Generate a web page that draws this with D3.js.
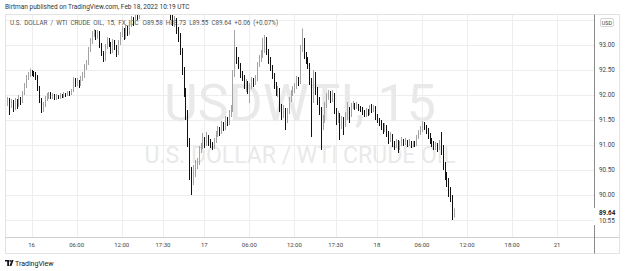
<!DOCTYPE html>
<html>
<head>
<meta charset="utf-8">
<script src="https://cdn.jsdelivr.net/npm/d3@7"></script>
<style>
  body { margin: 0; background: #fff; }
  svg { display: block; font-family: Roboto, "Liberation Sans", sans-serif; }
</style>
</head>
<body>
<div id="chart"></div>
<script>
// USDWTI 15 min bars (bar 0 = first bar on screen)
const opens = [
  91.78,91.82,91.90,91.78,91.86,91.74,91.88,91.80,91.92,91.86,92.02,92.18,92.34,92.40,92.46,92.44,92.42,92.36,92.14,91.90,
  91.72,91.80,91.92,91.98,92.02,91.96,92.00,91.94,91.98,91.96,92.00,91.98,92.02,92.00,92.04,92.02,92.08,92.30,92.22,92.28,
  92.20,92.32,92.36,92.56,92.62,92.90,93.06,93.22,93.28,93.18,93.26,93.00,92.84,92.70,92.96,93.10,93.02,92.88,93.06,92.96,
  92.82,93.04,93.20,93.30,93.16,93.34,93.24,93.40,93.50,93.44,93.62,93.56,93.70,93.82,93.95,94.05,94.10,94.02,94.15,94.20,
  94.12,94.08,94.18,94.10,94.00,93.96,93.90,93.84,93.78,93.56,93.44,93.50,93.30,93.20,92.90,92.50,92.10,91.62,91.10,90.40,
  90.30,90.44,90.60,90.64,90.90,90.96,91.10,91.02,91.16,91.06,91.02,90.96,91.08,91.20,91.30,91.26,91.40,91.34,91.50,91.44,
  91.62,91.70,92.40,92.80,92.70,92.60,92.40,92.36,92.20,92.24,92.10,92.18,92.30,92.24,92.32,92.60,92.72,92.80,92.90,93.10,
  92.88,92.70,92.56,92.40,92.20,92.06,92.10,91.76,91.62,91.70,91.56,91.66,91.90,92.04,92.10,92.16,92.30,92.26,92.90,93.10,
  92.80,92.70,92.60,92.30,91.90,92.40,92.10,91.90,91.70,91.40,91.50,91.80,91.96,92.04,91.90,92.00,91.70,91.50,91.60,91.40,
  91.50,91.40,91.56,91.70,91.60,91.76,91.80,91.76,91.80,91.74,91.72,91.66,91.60,91.70,91.64,91.74,91.70,91.76,91.56,91.50,
  91.44,91.40,91.30,91.36,91.24,91.10,91.18,91.04,91.00,91.06,90.94,91.02,91.10,91.04,91.08,91.02,91.06,91.00,91.04,91.02,
  91.16,91.24,91.30,91.40,91.36,91.30,91.20,91.10,91.04,90.96,91.00,90.94,91.02,90.96,90.60,90.40,90.30,90.10,89.96,89.58
];
const highs = [
  91.90,91.96,91.94,91.92,91.90,91.94,91.92,92.00,91.96,92.08,92.24,92.40,92.46,92.53,92.50,92.48,92.46,92.40,92.18,91.94,
  91.86,91.98,92.04,92.06,92.06,92.04,92.02,92.02,92.00,92.04,92.02,92.06,92.04,92.08,92.08,92.12,92.36,92.34,92.34,92.30,
  92.38,92.46,92.62,92.70,92.96,93.14,93.28,93.32,93.30,93.30,93.28,93.04,92.88,93.02,93.16,93.14,93.06,93.12,93.10,93.00,
  93.10,93.26,93.38,93.34,93.42,93.38,93.48,93.58,93.56,93.70,93.68,93.80,93.90,94.02,94.12,94.18,94.14,94.22,94.28,94.24,
  94.16,94.24,94.22,94.14,94.06,94.00,93.94,93.88,93.82,93.60,93.58,93.54,93.36,93.24,92.94,92.56,92.14,91.70,91.14,90.56,
  90.60,90.70,90.74,90.98,91.04,91.24,91.16,91.26,91.20,91.12,91.06,91.14,91.28,91.38,91.36,91.48,91.46,91.58,91.56,91.70,
  91.80,92.50,93.30,92.96,92.76,92.64,92.48,92.40,92.32,92.28,92.24,92.36,92.34,92.40,92.66,92.80,92.90,93.14,93.20,93.16,
  92.92,92.76,92.60,92.44,92.26,92.18,92.14,91.82,91.80,91.74,91.74,91.96,92.10,92.18,92.24,92.38,92.36,93.00,93.33,93.14,
  92.86,92.76,92.64,92.34,92.50,92.46,92.16,91.96,91.76,91.60,91.86,92.04,92.10,92.08,92.10,92.04,91.74,91.68,91.64,91.58,
  91.56,91.66,91.86,91.76,91.84,91.88,91.84,91.86,91.82,91.78,91.76,91.70,91.74,91.72,91.80,91.82,91.80,91.78,91.62,91.54,
  91.50,91.44,91.44,91.40,91.28,91.26,91.22,91.08,91.12,91.10,91.08,91.16,91.12,91.14,91.10,91.12,91.08,91.08,91.08,91.20,
  91.30,91.38,91.48,91.46,91.40,91.34,91.24,91.14,91.08,91.06,91.04,91.10,91.26,91.00,90.66,90.46,90.34,90.16,90.00,89.73
];
const lows = [
  91.72,91.78,91.60,91.74,91.66,91.70,91.72,91.76,91.80,91.84,92.00,92.14,92.30,92.36,92.38,92.36,92.30,92.08,91.84,91.64,
  91.66,91.76,91.88,91.92,91.92,91.92,91.90,91.90,91.92,91.92,91.94,91.94,91.96,91.98,91.98,92.00,92.06,92.16,92.18,92.14,
  92.18,92.28,92.34,92.50,92.60,92.86,93.02,93.16,93.10,93.12,92.94,92.78,92.66,92.68,92.92,92.96,92.82,92.84,92.90,92.76,
  92.80,93.00,93.16,93.10,93.12,93.18,93.20,93.36,93.38,93.40,93.50,93.52,93.66,93.78,93.90,94.00,93.96,93.98,94.10,94.06,
  94.02,94.04,94.04,93.94,93.90,93.84,93.78,93.70,93.50,93.38,93.36,93.22,93.06,92.80,92.40,91.96,91.50,90.96,90.30,90.00,
  90.20,90.36,90.52,90.60,90.84,90.92,90.94,90.98,90.98,90.94,90.90,90.92,91.04,91.16,91.18,91.22,91.28,91.30,91.38,91.40,
  91.56,91.66,92.36,92.62,92.52,92.34,92.28,92.12,92.06,92.02,91.84,92.12,92.16,92.20,92.28,92.56,92.66,92.74,92.84,92.80,
  92.62,92.48,92.32,92.12,91.98,91.96,91.66,91.50,91.54,91.30,91.44,91.62,91.86,91.98,92.04,92.12,92.18,92.22,92.86,92.72,
  92.62,92.52,92.20,91.16,91.84,92.00,91.80,91.60,90.90,91.30,91.44,91.74,91.90,91.84,91.86,91.62,91.40,91.44,91.10,91.32,
  91.20,91.36,91.50,91.44,91.56,91.72,91.70,91.72,91.68,91.66,91.60,91.56,91.56,91.58,91.60,91.64,91.66,91.50,91.44,91.38,
  91.30,91.22,91.26,91.16,91.02,91.06,90.96,90.90,90.94,90.84,90.90,90.98,90.98,91.00,90.96,90.98,90.94,90.96,90.96,90.98,
  91.12,91.20,91.26,91.30,91.22,91.12,91.02,90.96,90.90,90.90,90.86,90.90,90.80,90.50,90.30,90.16,89.96,89.86,89.50,89.55
];
const closes = [
  91.82,91.90,91.78,91.86,91.74,91.88,91.80,91.92,91.86,92.02,92.18,92.34,92.40,92.46,92.44,92.42,92.36,92.14,91.90,91.72,
  91.80,91.92,91.98,92.02,91.96,92.00,91.94,91.98,91.96,92.00,91.98,92.02,92.00,92.04,92.02,92.08,92.30,92.22,92.28,92.20,
  92.32,92.36,92.56,92.62,92.90,93.06,93.22,93.28,93.18,93.26,93.00,92.84,92.70,92.96,93.10,93.02,92.88,93.06,92.96,92.82,
  93.04,93.20,93.30,93.16,93.34,93.24,93.40,93.50,93.44,93.62,93.56,93.70,93.82,93.95,94.05,94.10,94.02,94.15,94.20,94.12,
  94.08,94.18,94.10,94.00,93.96,93.90,93.84,93.78,93.56,93.44,93.50,93.30,93.20,92.90,92.50,92.10,91.62,91.10,90.40,90.30,
  90.44,90.60,90.64,90.90,90.96,91.10,91.02,91.16,91.06,91.02,90.96,91.08,91.20,91.30,91.26,91.40,91.34,91.50,91.44,91.62,
  91.70,92.40,92.80,92.70,92.60,92.40,92.36,92.20,92.24,92.10,92.18,92.30,92.24,92.32,92.60,92.72,92.80,92.90,93.10,92.88,
  92.70,92.56,92.40,92.20,92.06,92.10,91.76,91.62,91.70,91.56,91.66,91.90,92.04,92.10,92.16,92.30,92.26,92.90,93.10,92.80,
  92.70,92.60,92.30,91.90,92.40,92.10,91.90,91.70,91.40,91.50,91.80,91.96,92.04,91.90,92.00,91.70,91.50,91.60,91.40,91.50,
  91.40,91.56,91.70,91.60,91.76,91.80,91.76,91.80,91.74,91.72,91.66,91.60,91.70,91.64,91.74,91.70,91.76,91.56,91.50,91.44,
  91.40,91.30,91.36,91.24,91.10,91.18,91.04,91.00,91.06,90.94,91.02,91.10,91.04,91.08,91.02,91.06,91.00,91.04,91.02,91.16,
  91.24,91.30,91.40,91.36,91.30,91.20,91.10,91.04,90.96,91.00,90.94,91.02,90.96,90.60,90.40,90.30,90.10,89.96,89.58,89.64
];

// time axis: bar index of each label
const timeTicks = [14, 38, 62, 84, 106, 130, 154, 176, 198, 222, 246, 270, 294];
const timeLabels = ["16", "06:00", "12:00", "17:30", "17", "06:00", "12:00", "17:30", "18", "06:00", "12:00", "18:00", "21"];
// price axis
const gridPrices = [89.5, 90, 90.5, 91, 91.5, 92, 92.5, 93, 93.5];
const labelPrices = [90, 90.5, 91, 91.5, 92, 92.5, 93];

const symbolName = "U.S. DOLLAR / WTI CRUDE OIL, 15, FX_IDC";
const watermark1 = "USDWTI, 15";
const watermark2 = "U.S. DOLLAR / WTI CRUDE OIL";
const publishedText = "Birtman published on TradingView.com, Feb 18, 2022 10:19 UTC";
const lastBarTime = "10:55";

// layout
const W = 625, H = 271;
const pane = {left: 5.5, top: 14.5, right: 594.5, bottom: 237.5};
const frameRight = 619.5, frameBottom = 253.5;
const upColor = "#a3a3a3", downColor = "#111";
const gridColor = "#eeeeee";

const x = d3.scaleLinear().domain([0, 300]).range([5.3, 5.3 + 300 * 1.877]);
const y = d3.scaleLinear().domain([90, 93]).range([195, 45]);
const fmt = d3.format(".2f");

const svg = d3.select("#chart").append("svg")
  .attr("width", W)
  .attr("height", H);

svg.append("rect").attr("width", W).attr("height", H).attr("fill", "#fff");

svg.append("defs").append("clipPath").attr("id", "pane")
  .append("rect")
  .attr("x", pane.left).attr("y", pane.top)
  .attr("width", pane.right - pane.left).attr("height", pane.bottom - pane.top);

// grid
const grid = svg.append("g").attr("stroke", gridColor).attr("stroke-width", 1);
grid.selectAll(".hg").data(gridPrices).join("line")
  .attr("x1", pane.left).attr("x2", pane.right)
  .attr("y1", d => Math.round(y(d)) + 0.5).attr("y2", d => Math.round(y(d)) + 0.5);
grid.selectAll(".vg").data(timeTicks).join("line")
  .attr("x1", d => Math.round(x(d)) + 0.5).attr("x2", d => Math.round(x(d)) + 0.5)
  .attr("y1", pane.top).attr("y2", pane.bottom);

// watermark
const cx = (pane.left + pane.right) / 2;
svg.append("text")
  .attr("x", cx).attr("y", 121)
  .attr("text-anchor", "middle")
  .attr("font-size", 52)
  .attr("fill", "#e9e9e9")
  .text(watermark1);
svg.append("text")
  .attr("x", cx).attr("y", 163)
  .attr("text-anchor", "middle")
  .attr("font-size", 23)
  .attr("fill", "#e9e9e9")
  .text(watermark2);

// legend
const last = closes.length - 1;
const chg = closes[last] - closes[last - 1];
const legend = svg.append("text")
  .attr("x", 10).attr("y", 25)
  .attr("font-size", 6.3)
  .attr("word-spacing", 1.5)
  .attr("fill", "#555");
legend.append("tspan").text(symbolName);
legend.append("tspan").attr("dx", 4)
  .text("O" + fmt(opens[last]) + " H" + fmt(highs[last]) + " L" + fmt(lows[last]) + " C" + fmt(closes[last]) +
  " " + d3.format("+.2f")(chg) + " (" + d3.format("+.2%")(chg / closes[last - 1]) + ")");

// candles
const bars = d3.range(closes.length);
const candles = svg.append("g").attr("clip-path", "url(#pane)");
candles.selectAll("line").data(bars).join("line")
  .attr("x1", i => Math.round(x(i)) + 0.5).attr("x2", i => Math.round(x(i)) + 0.5)
  .attr("y1", i => y(highs[i])).attr("y2", i => y(lows[i]))
  .attr("stroke", i => closes[i] >= opens[i] ? upColor : downColor)
  .attr("stroke-width", 1);

// frame and axes
svg.append("rect")
  .attr("x", pane.left).attr("y", pane.top)
  .attr("width", frameRight - pane.left).attr("height", frameBottom - pane.top)
  .attr("fill", "none").attr("stroke", "#e3e3e3");
svg.append("line")
  .attr("x1", pane.left).attr("x2", frameRight)
  .attr("y1", pane.bottom).attr("y2", pane.bottom)
  .attr("stroke", "#cfcfcf");
svg.append("line")
  .attr("x1", pane.right).attr("x2", pane.right)
  .attr("y1", pane.top).attr("y2", frameBottom)
  .attr("stroke", "#8a8a8a");

// price labels
svg.append("g").selectAll("text").data(labelPrices).join("text")
  .attr("x", 599).attr("y", d => y(d) + 2.2)
  .attr("font-size", 6.3)
  .attr("fill", "#444")
  .text(d => fmt(d));

// USD box
svg.append("rect")
  .attr("x", 600.5).attr("y", 18.5).attr("width", 13).attr("height", 8).attr("rx", 1.5)
  .attr("fill", "#fff").attr("stroke", "#d6d6d6");
svg.append("text")
  .attr("x", 607).attr("y", 24.5).attr("text-anchor", "middle")
  .attr("font-size", 5.5).attr("fill", "#444")
  .text("USD");

// last price label
const ly = y(closes[last]);
svg.append("rect")
  .attr("x", pane.right - 0.5).attr("y", ly - 5).attr("width", 22).attr("height", 17)
  .attr("fill", "#fff");
svg.append("text")
  .attr("x", 599).attr("y", ly + 2.2)
  .attr("font-size", 6.3).attr("font-weight", "bold").attr("fill", "#222")
  .text(fmt(closes[last]));
svg.append("text")
  .attr("x", 599).attr("y", ly + 10)
  .attr("font-size", 6.3).attr("fill", "#444")
  .text(lastBarTime);

// time labels
svg.append("g").selectAll("text").data(timeTicks).join("text")
  .attr("x", d => x(d)).attr("y", 247)
  .attr("text-anchor", "middle")
  .attr("font-size", 6)
  .attr("fill", "#444")
  .text((d, i) => timeLabels[i]);

// header
svg.append("text")
  .attr("x", 5).attr("y", 9)
  .attr("font-size", 6.5)
  .attr("fill", "#333")
  .text(publishedText);

// footer logo
const logo = svg.append("g").attr("transform", "translate(5,260)").attr("fill", "#131722");
logo.append("path").attr("d", "M0,0 H4 V6 H2.2 V1.6 H0 Z");
logo.append("circle").attr("cx", 5.2).attr("cy", 0.9).attr("r", 0.9);
logo.append("path").attr("d", "M6.6,0 H8.6 L6.4,6 H4.4 Z");
svg.append("text")
  .attr("x", 15).attr("y", 266)
  .attr("font-size", 7)
  .attr("fill", "#131722")
  .text("TradingView");
</script>
</body>
</html>
